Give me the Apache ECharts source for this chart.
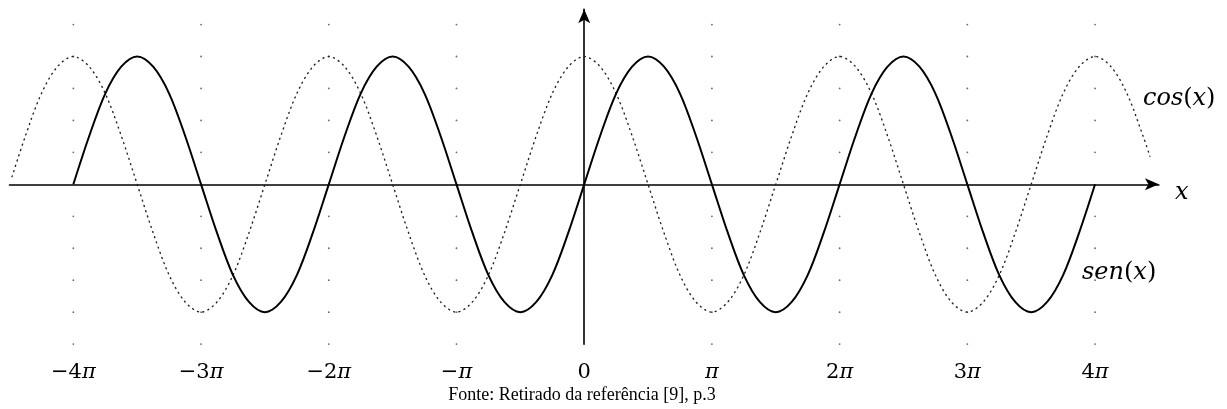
<!DOCTYPE html>
<html>
<head>
<meta charset="utf-8">
<title>sen(x) e cos(x)</title>
<script src="https://cdn.jsdelivr.net/npm/echarts@6/dist/echarts.min.js"></script>
<style>
  html, body { margin: 0; padding: 0; background: #fff; }
  #chart { width: 1227px; height: 409px; }
</style>
</head>
<body>
<div id="chart"></div>
<script>
// Sample spacing along x, in multiples of π
const STEP = 0.125;

// sen(x) sampled on [-4π, 4π]
const sinStart = -4;
const sinValues = [
  0, 0.38, 0.71, 0.92, 1, 0.92, 0.71, 0.38, 0, -0.38, -0.71, -0.92, -1, -0.92, -0.71, -0.38,
  0, 0.38, 0.71, 0.92, 1, 0.92, 0.71, 0.38, 0, -0.38, -0.71, -0.92, -1, -0.92, -0.71, -0.38,
  0, 0.38, 0.71, 0.92, 1, 0.92, 0.71, 0.38, 0, -0.38, -0.71, -0.92, -1, -0.92, -0.71, -0.38,
  0, 0.38, 0.71, 0.92, 1, 0.92, 0.71, 0.38, 0, -0.38, -0.71, -0.92, -1, -0.92, -0.71, -0.38,
  0
];

// cos(x) sampled on [-4.375π, 4.375π], plus its two end points
const cosStart = -4.375;
const cosValues = [
  0.38, 0.71, 0.92, 1, 0.92, 0.71, 0.38, 0, -0.38, -0.71, -0.92, -1, -0.92, -0.71, -0.38, 0,
  0.38, 0.71, 0.92, 1, 0.92, 0.71, 0.38, 0, -0.38, -0.71, -0.92, -1, -0.92, -0.71, -0.38, 0,
  0.38, 0.71, 0.92, 1, 0.92, 0.71, 0.38, 0, -0.38, -0.71, -0.92, -1, -0.92, -0.71, -0.38, 0,
  0.38, 0.71, 0.92, 1, 0.92, 0.71, 0.38, 0, -0.38, -0.71, -0.92, -1, -0.92, -0.71, -0.38, 0,
  0.38, 0.71, 0.92, 1, 0.92, 0.71, 0.38
];
const cosFirst = [-4.48, 0.06];
const cosLast = [4.43, 0.22];

// Background dot lattice
const latticeX = [-4, -3, -2, -1, 0, 1, 2, 3, 4];
const latticeY = [-1.25, -1, -0.75, -0.5, -0.25, 0.25, 0.5, 0.75, 1, 1.25];

// Tick labels at the integer multiples of π
const tickValues = [-4, -3, -2, -1, 0, 1, 2, 3, 4];
const tickLabels = ['−4π', '−3π', '−2π', '−π', '0', 'π', '2π', '3π', '4π'];

const caption = 'Fonte: Retirado da referência [9], p.3';

const sinData = sinValues.map((v, i) => [sinStart + i * STEP, v]);
const cosData = [cosFirst]
  .concat(cosValues.map((v, i) => [cosStart + i * STEP, v]))
  .concat([cosLast]);
const latticeData = [];
latticeX.forEach(x => latticeY.forEach(y => latticeData.push([x, y])));

function richTick(label) {
  let out = '';
  for (const ch of label) {
    if (ch === '−') out += '{m|−}';
    else if (ch === 'π') out += '{p|π}';
    else out += '{d|' + ch + '}';
  }
  return out;
}

const SERIF = '"DejaVu Serif", serif';
const chart = echarts.init(document.getElementById('chart'), null, { renderer: 'canvas' });

chart.setOption({
  animation: false,
  backgroundColor: '#fff',
  grid: { left: 9.5, right: 68.1, top: 9.2, bottom: 64.9, containLabel: false },
  xAxis: [
    {
      type: 'value', min: -4.5, max: 4.5,
      axisLine: {
        show: true, onZero: true,
        symbol: ['none', 'arrow'], symbolSize: [9, 14],
        lineStyle: { color: '#000', width: 1.6 }
      },
      axisTick: { show: false }, axisLabel: { show: false }, splitLine: { show: false }
    },
    {
      type: 'value', min: -4.5, max: 4.5, interval: 0.5, position: 'bottom',
      axisLine: { show: false, onZero: false },
      axisTick: { show: false }, splitLine: { show: false },
      axisLabel: {
        show: true, margin: 18,
        formatter: v => {
          const i = tickValues.indexOf(v);
          return i < 0 ? '' : richTick(tickLabels[i]);
        },
        rich: {
          m: { fontFamily: SERIF, fontSize: 21, color: '#000' },
          d: { fontFamily: SERIF, fontSize: 21, color: '#000' },
          p: { fontFamily: SERIF, fontSize: 21, fontStyle: 'italic', color: '#000' }
        }
      }
    }
  ],
  yAxis: {
    type: 'value', min: -1.25, max: 1.37,
    axisLine: {
      show: true, onZero: true,
      symbol: ['none', 'arrow'], symbolSize: [9, 14],
      lineStyle: { color: '#000', width: 1.6 }
    },
    axisTick: { show: false }, axisLabel: { show: false }, splitLine: { show: false }
  },
  series: [
    {
      name: 'lattice', type: 'scatter', xAxisIndex: 0, data: latticeData,
      symbol: 'circle', symbolSize: 1.8, silent: true,
      itemStyle: { color: '#444' }, z: 1
    },
    {
      name: 'cos', type: 'line', xAxisIndex: 0, data: cosData,
      smooth: 0.33, showSymbol: false, silent: true,
      lineStyle: { color: '#222', width: 1.4, type: [1, 4.5], cap: 'round' }, z: 2
    },
    {
      name: 'sen', type: 'line', xAxisIndex: 0, data: sinData,
      smooth: 0.33, showSymbol: false, silent: true,
      lineStyle: { color: '#000', width: 2 }, z: 3
    }
  ],
  graphic: [
    {
      type: 'text', left: 1143, top: 87, silent: true,
      style: {
        text: '{i|cos}{r|(}{i|x}{r|)}',
        rich: {
          i: { fontFamily: SERIF, fontSize: 24, fontStyle: 'italic', fill: '#000' },
          r: { fontFamily: SERIF, fontSize: 24, fill: '#000' }
        }
      }
    },
    {
      type: 'text', left: 1082, top: 261, silent: true,
      style: {
        text: '{i|sen}{r|(}{i|x}{r|)}',
        rich: {
          i: { fontFamily: SERIF, fontSize: 24, fontStyle: 'italic', fill: '#000' },
          r: { fontFamily: SERIF, fontSize: 24, fill: '#000' }
        }
      }
    },
    {
      type: 'text', left: 1175, top: 181, silent: true,
      style: { text: 'x', font: 'italic 24px "DejaVu Serif", serif', fill: '#000' }
    },
    {
      type: 'text', x: 582, y: 395, silent: true,
      style: {
        text: caption, font: '18px "Liberation Serif", serif', fill: '#000',
        align: 'center', verticalAlign: 'middle'
      }
    }
  ]
});
</script>
</body>
</html>
